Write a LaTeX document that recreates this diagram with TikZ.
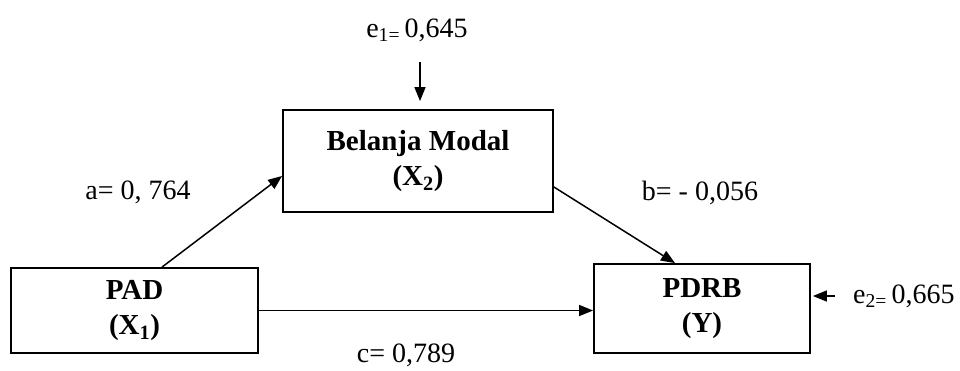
\documentclass[tikz,border=0pt]{standalone}
\usepackage{fontspec}
\setmainfont{Liberation Serif}
\usetikzlibrary{arrows.meta}

\tikzset{
  kasten/.style={draw, line width=1.8pt, inner sep=0pt, align=center,
    font=\fontsize{29}{35}\selectfont\bfseries},
  pfeil/.style={-{Triangle[length=14pt,width=11pt]}, line width=1.5pt},
  wert/.style={inner sep=0pt, font=\fontsize{28}{32}\selectfont}
}

\begin{document}
\begin{tikzpicture}[x=1pt,y=-1pt]
  \useasboundingbox (0,0) rectangle (960,370);

  % Kaesten
  \node[kasten, minimum width=270pt, minimum height=102pt] (bm) at (418,161) {Belanja Modal\\(X\textsubscript{2})};
  \node[kasten, minimum width=247pt, minimum height=85pt] (pad) at (134.5,310.5) {PAD\\(X\textsubscript{1})};
  \node[kasten, minimum width=216pt, minimum height=89pt] (pdrb) at (702,308.5) {PDRB\\(Y)};

  % Werte
  \node[wert] (e1) at (417,30) {e\textsubscript{1=}\,0,645};
  \node[wert, anchor=west] (e2) at (853,296) {e\textsubscript{2=}\,0,665};
  \node[wert] (a) at (138,192) {a= 0, 764};
  \node[wert] (b) at (700,193) {b= - 0,056};
  \node[wert] (c) at (406,355) {c= 0,789};

  \coordinate (e1a) at (420,62);

  \draw[pfeil] ([xshift=27.5pt]pad.north) -- ([yshift=-15pt]bm.west);
  \draw[pfeil] ([yshift=-26pt]bm.east) -- ([xshift=-27pt]pdrb.north);
  \draw[pfeil] (pad.east) -- (pad.east -| pdrb.west);
  \draw[pfeil, shorten >=8pt] (e1a) -- (e1a |- bm.north);
  \draw[pfeil, shorten <=18pt, shorten >=2pt] (e2.west) -- (e2.west -| pdrb.east);

\end{tikzpicture}
\end{document}
